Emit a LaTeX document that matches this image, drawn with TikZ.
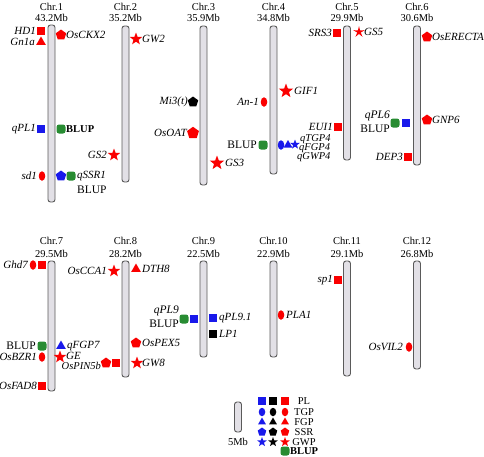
\documentclass[tikz,border=0pt]{standalone}
\usepackage{fontspec}
\setmainfont{Liberation Serif}
\usetikzlibrary{shapes.geometric}
\definecolor{mred}{RGB}{250,0,0}
\definecolor{mblue}{RGB}{25,25,235}
\definecolor{mgreen}{RGB}{40,140,50}
\definecolor{chrfill}{RGB}{226,224,230}
\definecolor{chrline}{RGB}{90,90,90}
\begin{document}
\begin{tikzpicture}[x=1pt,y=-1pt,
  chrom/.style={draw=chrline, fill=chrfill, line width=0.9pt, rounded corners=2.5pt, minimum width=7pt, inner sep=0},
  hdr/.style={font=\fontsize{10.5}{10.5}\selectfont, inner sep=0},
  lab/.style={font=\itshape\fontsize{11}{11}\selectfont, inner sep=0},
  slab/.style={font=\itshape\fontsize{10.5}{10.5}\selectfont, inner sep=0},
  rlab/.style={font=\fontsize{11.5}{11.5}\selectfont, inner sep=0},
  blab/.style={font=\bfseries\fontsize{10.5}{10.5}\selectfont, inner sep=0},
  msq/.style={rectangle, minimum size=8.5pt, inner sep=0},
  mel/.style={ellipse, minimum width=6.5pt, minimum height=9.5pt, inner sep=0},
  mtri/.style={regular polygon, regular polygon sides=3, minimum size=11pt, inner sep=0},
  mpent/.style={regular polygon, regular polygon sides=5, minimum size=11pt, inner sep=0},
  mstar/.style={star, star points=5, star point ratio=2.4, minimum size=13pt, inner sep=0},
  mblup/.style={rectangle, rounded corners=2.5pt, minimum size=9pt, fill=mgreen, inner sep=0}
]
\useasboundingbox (0,0) rectangle (484,456);

% ---------- chromosomes ----------
\node[chrom, minimum height=177pt] (c1) at (51.5,113.5) {};
\node[chrom, minimum height=156pt] (c2) at (125.5,104) {};
\node[chrom, minimum height=159pt] (c3) at (203.5,105.5) {};
\node[chrom, minimum height=148pt] (c4) at (273.5,100) {};
\node[chrom, minimum height=134pt] (c5) at (347,93) {};
\node[chrom, minimum height=139pt] (c6) at (417,95.5) {};
\node[chrom, minimum height=130pt] (c7) at (51.5,326) {};
\node[chrom, minimum height=116pt] (c8) at (125.5,319) {};
\node[chrom, minimum height=96pt] (c9) at (203.5,309) {};
\node[chrom, minimum height=96pt] (c10) at (273.5,309) {};
\node[chrom, minimum height=115pt] (c11) at (347,318.5) {};
\node[chrom, minimum height=108pt] (c12) at (417,315) {};

% ---------- headers ----------
\node[hdr] (h1a) at (51.5,7) {Chr.1};   \node[hdr] (h1b) at (51.5,18) {43.2Mb};
\node[hdr] (h2a) at (125.5,7) {Chr.2};  \node[hdr] (h2b) at (125.5,18) {35.2Mb};
\node[hdr] (h3a) at (203.5,7) {Chr.3};  \node[hdr] (h3b) at (203.5,18) {35.9Mb};
\node[hdr] (h4a) at (273.5,7) {Chr.4};  \node[hdr] (h4b) at (273.5,18) {34.8Mb};
\node[hdr] (h5a) at (347,7) {Chr.5};    \node[hdr] (h5b) at (347,18) {29.9Mb};
\node[hdr] (h6a) at (417,7) {Chr.6};    \node[hdr] (h6b) at (417,18) {30.6Mb};
\node[hdr] (h7a) at (51.5,241) {Chr.7};   \node[hdr] (h7b) at (51.5,254) {29.5Mb};
\node[hdr] (h8a) at (125.5,241) {Chr.8};  \node[hdr] (h8b) at (125.5,254) {28.2Mb};
\node[hdr] (h9a) at (203.5,241) {Chr.9};  \node[hdr] (h9b) at (203.5,254) {22.5Mb};
\node[hdr] (h10a) at (273.5,241) {Chr.10}; \node[hdr] (h10b) at (273.5,254) {22.9Mb};
\node[hdr] (h11a) at (347,241) {Chr.11};   \node[hdr] (h11b) at (347,254) {29.1Mb};
\node[hdr] (h12a) at (417,241) {Chr.12};   \node[hdr] (h12b) at (417,254) {26.8Mb};

% ---------- Chr.1 ----------
\node[msq, fill=mred] (m1a) at (41,31) {};
\node[lab, anchor=east] (l1a) at (36,31) {HD1};
\node[mtri, fill=mred] (m1b) at (41,42) {};
\node[lab, anchor=east] (l1b) at (35,42) {Gn1a};
\node[mpent, fill=mred] (m1c) at (61,35) {};
\node[lab, anchor=west] (l1c) at (66,35) {OsCKX2};
\node[msq, fill=mblue] (m1d) at (41,129) {};
\node[lab, anchor=east] (l1d) at (36,129) {qPL1};
\node[mblup] (m1e) at (61,129) {};
\node[blab, anchor=west] (l1e) at (66,129) {BLUP};
\node[mel, fill=mred] (m1f) at (42,176) {};
\node[lab, anchor=east] (l1f) at (37,176) {sd1};
\node[mpent, fill=mblue] (m1g) at (61,176) {};
\node[mblup] (m1h) at (71,176) {};
\node[lab, anchor=west] (l1g) at (77,176) {qSSR1};
\node[rlab, anchor=west] (l1h) at (77,190) {BLUP};

% ---------- Chr.2 ----------
\node[mstar, fill=mred] (m2a) at (136,39) {};
\node[lab, anchor=west] (l2a) at (142,39) {GW2};
\node[mstar, fill=mred] (m2b) at (114,155) {};
\node[lab, anchor=east] (l2b) at (107,155) {GS2};

% ---------- Chr.3 ----------
\node[mpent, fill=black] (m3a) at (193,102) {};
\node[lab, anchor=east] (l3a) at (188,102) {Mi3(t)};
\node[mpent, fill=mred, minimum size=12.5pt] (m3b) at (193,133) {};
\node[lab, anchor=east] (l3b) at (187,133) {OsOAT};
\node[mstar, fill=mred, minimum size=15pt] (m3c) at (217,163) {};
\node[lab, anchor=west] (l3c) at (225,163) {GS3};

% ---------- Chr.4 ----------
\node[mstar, fill=mred, minimum size=15pt] (m4a) at (286,91) {};
\node[lab, anchor=west] (l4a) at (294,91) {GIF1};
\node[mel, fill=mred] (m4b) at (264,102) {};
\node[lab, anchor=east] (l4b) at (259,102) {An-1};
\node[mblup] (m4c) at (263,145) {};
\node[rlab, anchor=east] (l4c) at (257,145) {BLUP};
\node[mel, fill=mblue] (m4d) at (281,145) {};
\node[mtri, fill=mblue, minimum size=10pt] (m4e) at (288,145) {};
\node[mstar, fill=mblue, minimum size=10pt] (m4f) at (295,144.5) {};
\node[slab, anchor=west] (l4d) at (300,139) {qTGP4};
\node[slab, anchor=west] (l4e) at (299,148) {qFGP4};
\node[slab, anchor=west] (l4f) at (297,157) {qGWP4};

% ---------- Chr.5 ----------
\node[msq, fill=mred] (m5a) at (337,33) {};
\node[lab, anchor=east] (l5a) at (332,33) {SRS3};
\node[mstar, fill=mred, star point ratio=3.2, minimum size=12pt] (m5b) at (359,32) {};
\node[lab, anchor=west] (l5b) at (364,32) {GS5};
\node[msq, fill=mred] (m5c) at (338,127) {};
\node[lab, anchor=east] (l5c) at (333,127) {EUI1};

% ---------- Chr.6 ----------
\node[mpent, fill=mred] (m6a) at (427,37) {};
\node[lab, anchor=west] (l6a) at (432,37) {OsERECTA};
\node[mpent, fill=mred] (m6b) at (427,120) {};
\node[lab, anchor=west] (l6b) at (432,120) {GNP6};
\node[mblup] (m6c) at (395,123) {};
\node[msq, fill=mblue] (m6d) at (406,123) {};
\node[lab, anchor=east, font=\itshape\fontsize{11.5}{11.5}\selectfont] (l6c) at (390,116) {qPL6};
\node[rlab, anchor=east] (l6d) at (390,128.5) {BLUP};
\node[msq, fill=mred] (m6e) at (408,157) {};
\node[lab, anchor=east] (l6e) at (403,157) {DEP3};

% ---------- Chr.7 ----------
\node[mel, fill=mred] (m7a) at (33,265) {};
\node[msq, fill=mred] (m7b) at (42,265) {};
\node[lab, anchor=east] (l7a) at (28,265) {Ghd7};
\node[mblup] (m7c) at (42,346) {};
\node[rlab, anchor=east] (l7c) at (36,346) {BLUP};
\node[mel, fill=mred] (m7d) at (42,357) {};
\node[lab, anchor=east] (l7d) at (37,357) {OsBZR1};
\node[mtri, fill=mblue] (m7e) at (61,346) {};
\node[lab, anchor=west] (l7e) at (67,346) {qFGP7};
\node[mstar, fill=mred] (m7f) at (60,357) {};
\node[lab, anchor=west] (l7f) at (66,355.5) {GE};
\node[msq, fill=mred] (m7g) at (42,386) {};
\node[lab, anchor=east] (l7g) at (37,386) {OsFAD8};

% ---------- Chr.8 ----------
\node[mstar, fill=mred] (m8a) at (114,271) {};
\node[lab, anchor=east] (l8a) at (107,271) {OsCCA1};
\node[mtri, fill=mred] (m8b) at (136,269) {};
\node[lab, anchor=west] (l8b) at (142,269) {DTH8};
\node[mpent, fill=mred] (m8c) at (136,343) {};
\node[lab, anchor=west] (l8c) at (142,343) {OsPEX5};
\node[mstar, fill=mred] (m8d) at (137,363) {};
\node[lab, anchor=west] (l8d) at (142,363) {GW8};
\node[mpent, fill=mred] (m8e) at (106,363) {};
\node[msq, fill=mred] (m8f) at (116,363) {};
\node[slab, anchor=east] (l8e) at (101,365.5) {OsPIN5b};

% ---------- Chr.9 ----------
\node[mblup] (m9a) at (184,319) {};
\node[msq, fill=mblue] (m9b) at (194,319) {};
\node[lab, anchor=east, font=\itshape\fontsize{11.5}{11.5}\selectfont] (l9a) at (179,311) {qPL9};
\node[rlab, anchor=east] (l9b) at (179,323.5) {BLUP};
\node[msq, fill=mblue] (m9c) at (213,318) {};
\node[lab, anchor=west] (l9c) at (219,318) {qPL9.1};
\node[msq, fill=black] (m9d) at (213,334) {};
\node[lab, anchor=west] (l9d) at (219,334) {LP1};

% ---------- Chr.10 ----------
\node[mel, fill=mred] (m10a) at (281,315) {};
\node[lab, anchor=west] (l10a) at (286,315) {PLA1};

% ---------- Chr.11 ----------
\node[msq, fill=mred] (m11a) at (338,280) {};
\node[lab, anchor=east] (l11a) at (333,280) {sp1};

% ---------- Chr.12 ----------
\node[mel, fill=mred] (m12a) at (409,347) {};
\node[lab, anchor=east] (l12a) at (403,347) {OsVIL2};

% ---------- legend ----------
\node[chrom, minimum height=30pt] (lg) at (238,417) {};
\node[hdr] (lgt) at (238,442) {5Mb};
\node[msq, fill=mblue] (k1a) at (262,401) {};
\node[msq, fill=black] (k1b) at (273,401) {};
\node[msq, fill=mred] (k1c) at (285,401) {};
\node[hdr] (t1) at (304,401) {PL};
\node[mel, fill=mblue, minimum height=8.5pt] (k2a) at (262,412) {};
\node[mel, fill=black, minimum height=8.5pt] (k2b) at (273,412) {};
\node[mel, fill=mred, minimum height=8.5pt] (k2c) at (285,412) {};
\node[hdr] (t2) at (304,412) {TGP};
\node[mtri, fill=mblue, minimum size=9pt] (k3a) at (262,422) {};
\node[mtri, fill=black, minimum size=9pt] (k3b) at (273,422) {};
\node[mtri, fill=mred, minimum size=9pt] (k3c) at (285,422) {};
\node[hdr] (t3) at (304,422) {FGP};
\node[mpent, fill=mblue, minimum size=9pt] (k4a) at (262,432) {};
\node[mpent, fill=black, minimum size=9pt] (k4b) at (273,432) {};
\node[mpent, fill=mred, minimum size=9pt] (k4c) at (285,432) {};
\node[hdr] (t4) at (304,432) {SSR};
\node[mstar, fill=mblue, minimum size=10pt] (k5a) at (262,442) {};
\node[mstar, fill=black, minimum size=10pt] (k5b) at (273,442) {};
\node[mstar, fill=mred, minimum size=10pt] (k5c) at (285,442) {};
\node[hdr] (t5) at (304,442) {GWP};
\node[mblup] (k6) at (285,451) {};
\node[blab] (t6) at (304,451) {BLUP};
\end{tikzpicture}
\end{document}
